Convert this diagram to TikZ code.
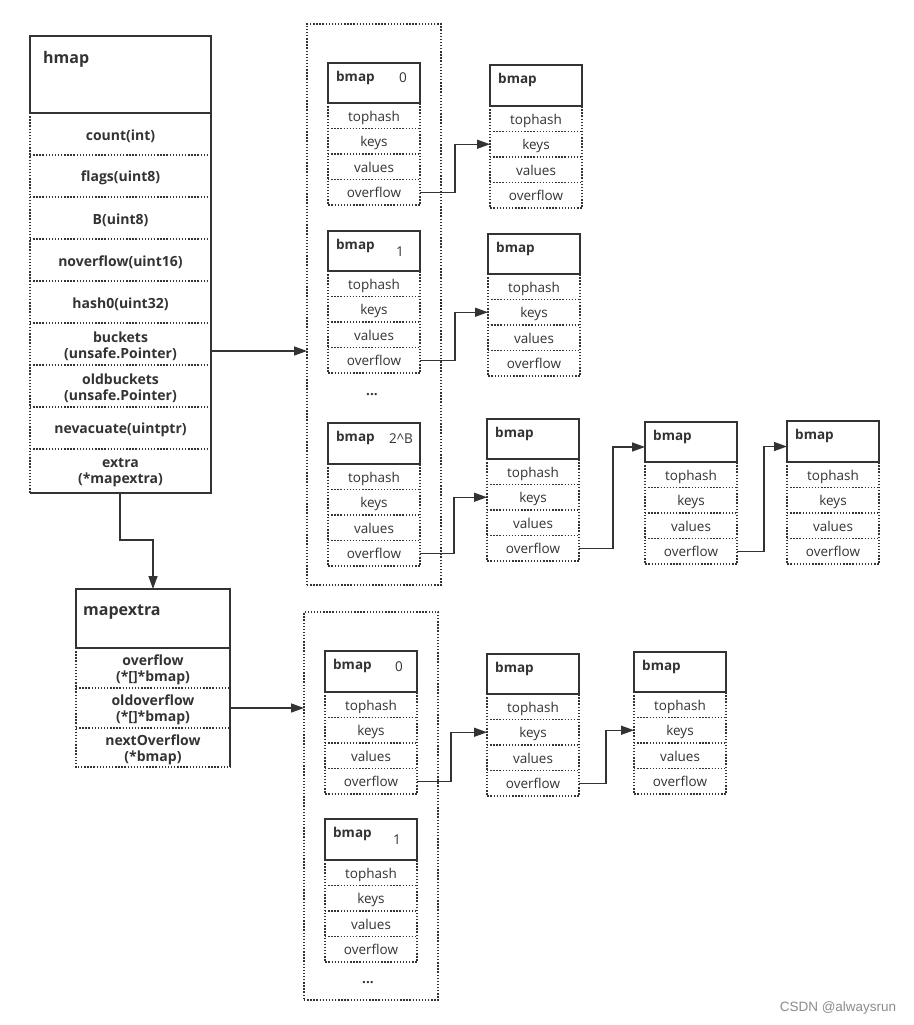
\documentclass[tikz,border=0pt]{standalone}
\usepackage{fontspec}
\setmainfont{Open Sans}
\newfontfamily\wmfont{Liberation Sans}
\usetikzlibrary{arrows.meta,calc}
\definecolor{ink}{HTML}{333333}
\tikzset{
 solidbox/.style={draw=ink, line width=1.4pt, rectangle, inner sep=0pt, outer sep=0pt},
 dotl/.style={draw=ink, line width=1.4pt, dash pattern=on 1.4pt off 1.7pt},
 dotbox/.style={dotl, rectangle, inner sep=0pt, outer sep=0pt},
 cell/.style={rectangle, inner sep=0pt, outer sep=0pt},
 rowtxt/.style={cell, font=\fontsize{13.5}{15}\selectfont, text=ink, minimum width=92pt, minimum height=25.5pt, text height=14pt, text depth=3pt},
 ftext/.style={inner sep=0pt, font=\bfseries\fontsize{14}{16}\selectfont, text=ink, align=center},
 arr/.style={draw=ink, line width=1.4pt, -{Triangle[length=13pt,width=9pt]}},
 link/.style={draw=ink, line width=1.4pt},
 ttl/.style={font=\bfseries\fontsize{16}{18}\selectfont, text=ink, inner sep=0pt},
 btl/.style={font=\bfseries\fontsize{13.5}{15}\selectfont, text=ink, inner sep=0pt},
 num/.style={font=\fontsize{13.5}{15}\selectfont, text=ink, inner sep=0pt},
}
% field cell: name, previous node, width, height, text
\newcommand\field[5]{%
 \node[cell, minimum width=#3pt, minimum height=#4pt, anchor=north] (#1) at (#2.south) {};
 \node[ftext] (#1-x) at ([yshift=-2pt]#1.center) {#5};
}
\newcommand\bmapbox[7]{%
 \node[solidbox, minimum width=92pt, minimum height=#4pt, anchor=north west] (#1) at (#2,#3) {};
 \node[btl, anchor=west] (#1-l) at ([shift={(8pt,-15pt)}]#1.north west) {bmap};
 \node[num] (#1-n) at ([shift={(#6pt,-#7pt)}]#1.north west) {#5};
 \node[rowtxt, anchor=north] (#1-t) at (#1.south) {tophash};
 \node[rowtxt, anchor=north] (#1-k) at (#1-t.south) {keys};
 \node[rowtxt, anchor=north] (#1-v) at (#1-k.south) {values};
 \node[rowtxt, anchor=north] (#1-o) at (#1-v.south) {overflow};
 \draw[dotl] (#1.south west) -- (#1-o.south west) -- (#1-o.south east) -- (#1.south east);
 \draw[dotl] (#1-t.south west) -- (#1-t.south east);
 \draw[dotl] (#1-k.south west) -- (#1-k.south east);
 \draw[dotl] (#1-v.south west) -- (#1-v.south east);
}
\begin{document}
\begin{tikzpicture}[x=1pt,y=-1pt]
\fill[white] (0,0) rectangle (913,1025);
\useasboundingbox (0,0) rectangle (913,1025);

% hmap
\node[solidbox, minimum width=181pt, minimum height=77pt, anchor=north west] (hm) at (30,36) {};
\node[ttl, anchor=west] (hm-l) at ([shift={(13pt,-23pt)}]hm.north west) {hmap};
\field{hm-1}{hm}{181}{42}{count(int)}
\field{hm-2}{hm-1}{181}{42}{flags(uint8)}
\field{hm-3}{hm-2}{181}{42}{B(uint8)}
\field{hm-4}{hm-3}{181}{42}{noverflow(uint16)}
\field{hm-5}{hm-4}{181}{42}{hash0(uint32)}
\field{hm-6}{hm-5}{181}{42}{buckets\\(unsafe.Pointer)}
\field{hm-7}{hm-6}{181}{42}{oldbuckets\\(unsafe.Pointer)}
\field{hm-8}{hm-7}{181}{42}{nevacuate(uintptr)}
\field{hm-9}{hm-8}{181}{44}{extra\\(*mapextra)}
\draw[dotl] (hm.south west) -- (hm-9.south west);
\foreach \i in {1,...,8} {\draw[dotl] (hm-\i.south west) -- (hm-\i.south east);}
\draw[link] (hm.north east) -- (hm-9.south east) -- (hm-9.south west);

% mapextra
\node[solidbox, minimum width=154pt, minimum height=59pt, anchor=north west] (mx) at (76,589) {};
\node[ttl, anchor=west] (mx-l) at ([shift={(7pt,-23pt)}]mx.north west) {mapextra};
\field{mx-1}{mx}{154}{40}{overflow\\(*[]*bmap)}
\field{mx-2}{mx-1}{154}{40}{oldoverflow\\(*[]*bmap)}
\field{mx-3}{mx-2}{154}{39}{nextOverflow\\(*bmap)}
\draw[dotl] (mx.south west) -- (mx-3.south west) -- (mx-3.south east);
\draw[dotl] (mx-1.south west) -- (mx-1.south east);
\draw[dotl] (mx-2.south west) -- (mx-2.south east);
\draw[link] (mx.north east) -- (mx-3.south east);

% containers
\node[dotbox, minimum width=134pt, minimum height=561pt, anchor=north west] (c1) at (307,24) {};
\node[dotbox, minimum width=134pt, minimum height=388pt, anchor=north west] (c2) at (304,612) {};

% bucket arrays
\bmapbox{a0}{328}{63}{40}{0}{75}{15}
\bmapbox{a1}{328}{231}{40}{1}{72}{21}
\bmapbox{a2}{328}{423}{41}{2\textasciicircum B}{73}{16}
\node[num, font=\bfseries\fontsize{13.5}{15}\selectfont] (dots1) at (372,395) {...};
\bmapbox{b0}{325}{651}{41}{0}{74}{16}
\bmapbox{b1}{325}{819}{41}{1}{72}{21}
\node[num, font=\bfseries\fontsize{13.5}{15}\selectfont] (dots2) at (368,983) {...};

% overflow chains
\bmapbox{r1}{490}{65}{41}{}{0}{0}
\bmapbox{r2}{488}{234}{40}{}{0}{0}
\bmapbox{r3}{487}{419}{40}{}{0}{0}
\bmapbox{r4}{645}{422}{40}{}{0}{0}
\bmapbox{r5}{787}{421}{41}{}{0}{0}
\bmapbox{s1}{487}{654}{40}{}{0}{0}
\bmapbox{s2}{634}{652}{40}{}{0}{0}

% connectors
\draw[arr] ([yshift=-7pt]hm-6.east) -- ([yshift=-7pt]c1.west |- hm-6.east);
\draw[arr] (mx-2.east) -- (c2.west |- mx-2.east);
\draw[arr] ([xshift=90pt]hm-9.south west) -- ++(0,47) -| (mx.north);

\draw[arr] (a0-o.east) -- ++(35,0) |- (r1-k.west);
\draw[arr] (a1-o.east) -- ++(35,0) |- (r2-k.west);
\draw[arr] (a2-o.east) -- ++(34,0) |- (r3-k.west);
\draw[arr] (r3-o.east) -- ++(34,0) |- ([yshift=-5pt]r4.west);
\draw[arr] (r4-o.east) -- ++(27,0) |- ([yshift=-5pt]r5.west);
\draw[arr] (b0-o.east) -- ++(34,0) |- (s1-k.west);
\draw[arr] (s1-o.east) -- ++(27,0) |- (s2-k.west);

\node[font=\wmfont\fontsize{13.5}{15}\selectfont, text=black!45] (wm) at (838,1008) {CSDN @alwaysrun};
\end{tikzpicture}
\end{document}
